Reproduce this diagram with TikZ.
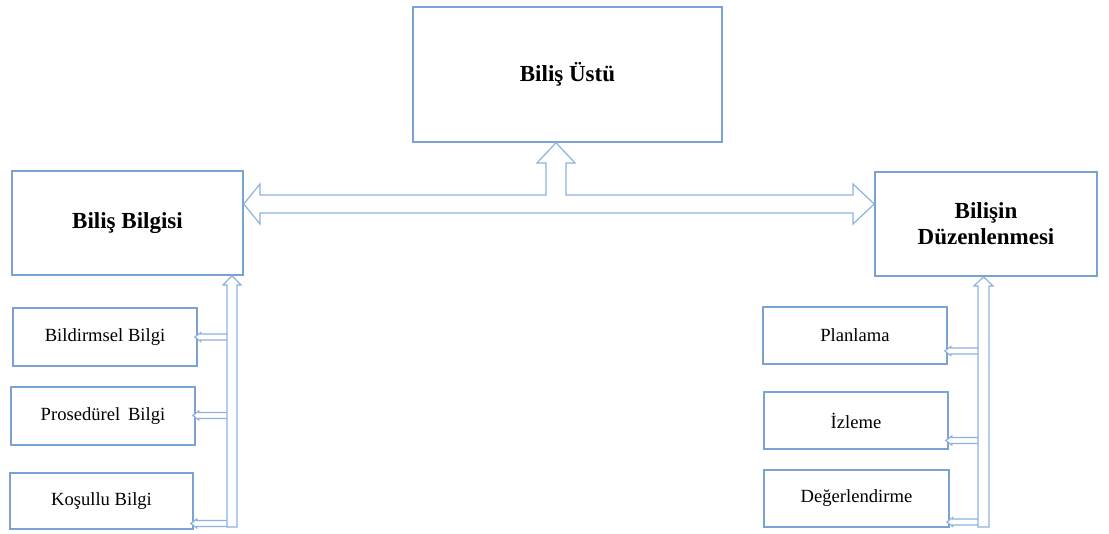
\documentclass[tikz,border=0pt]{standalone}
\usepackage{fontspec}
\setmainfont{Liberation Serif}
\usetikzlibrary{calc}
\definecolor{boxblue}{RGB}{122,162,210}
\definecolor{arrblue}{RGB}{140,178,222}
\tikzset{
  mainbox/.style={draw=boxblue,line width=0.75pt,fill=white,inner sep=0pt,align=center,font=\fontsize{11.5}{13}\selectfont\bfseries},
  subbox/.style={draw=boxblue,line width=0.75pt,fill=white,inner sep=0pt,align=center,font=\fontsize{9.3}{11}\selectfont},
  blockarrow/.style={draw=arrblue,line width=0.6pt,fill=white,line join=miter}
}
\begin{document}
\begin{tikzpicture}[x=0.5pt,y=-0.5pt]
\useasboundingbox (0,0) rectangle (1109,534);
% main boxes
\node[mainbox,minimum width=154.5pt,minimum height=67.5pt] (top) at (567.5,74.5) {Biliş Üstü};
\node[mainbox,minimum width=115.5pt,minimum height=52pt] (bb) at (127.5,223) {Biliş Bilgisi};
\node[mainbox,minimum width=111pt,minimum height=52pt] (bd) at (986,224) {Bilişin\\Düzenlenmesi};
% sub boxes left
\node[subbox,minimum width=92pt,minimum height=29pt] (b1) at (105,337) {Bildirmsel Bilgi};
\node[subbox,minimum width=92pt,minimum height=29pt] (b2) at (103,416) {Prosedürel\, Bilgi};
\node[subbox,minimum width=91.5pt,minimum height=28pt] (b3) at (101.5,501) {Koşullu Bilgi};
% sub boxes right
\node[subbox,minimum width=92pt,minimum height=28.5pt] (r1) at (855,335.5) {Planlama};
\node[subbox,minimum width=92pt,minimum height=28.5pt] (r2) at (856,420.5) {İzleme};
\node[subbox,minimum width=92.5pt,minimum height=28.5pt] (r3) at (856.5,498.5) {Değerlendirme};
% big T-shaped double arrow between bb, top, bd
\coordinate (ltip) at (bb.east |- 0,204);
\coordinate (utip) at (556,0 |- top.south);
\coordinate (rtip) at (bd.west |- 0,204);
\draw[blockarrow] (ltip) -- (260,184) -- (260,195) -- (546,195) -- (546,163) -- (537,163) -- (utip)
  -- (575,163) -- (566,163) -- (566,195) -- (853,195) -- (853,184) -- (rtip)
  -- (853,224) -- (853,213) -- (260,213) -- (260,224) -- cycle;
% left branches
\coordinate (lsh) at (228,0);
\coordinate (l1) at (b1.east |- 0,337);
\coordinate (l2) at (b2.east |- 0,415.5);
\coordinate (l3) at (b3.east |- 0,523.5);
\foreach \t in {l1,l2,l3}{
  \draw[blockarrow] ($(\t)+(-3,0)$) -- ($(\t)+(3,-4.5)$) -- ($(\t)+(3,-3)$) -- ($(\t -| lsh)+(0,-3)$)
     -- ($(\t -| lsh)+(0,3)$) -- ($(\t)+(3,3)$) -- ($(\t)+(3,4.5)$) -- cycle;
}
% left vertical arrow into bb
\coordinate (lvtip) at (232,0 |- bb.south);
\draw[blockarrow] (227,527) -- (227,285) -- (223,285) -- (lvtip) -- (241,285) -- (237,285) -- (237,527) -- cycle;
% right branches
\coordinate (rsh) at (979,0);
\coordinate (q1) at (r1.east |- 0,351);
\coordinate (q2) at (r2.east |- 0,440.5);
\coordinate (q3) at (r3.east |- 0,522);
\foreach \t in {q1,q2,q3}{
  \draw[blockarrow] ($(\t)+(-3,0)$) -- ($(\t)+(3,-4.5)$) -- ($(\t)+(3,-3)$) -- ($(\t -| rsh)+(0,-3)$)
     -- ($(\t -| rsh)+(0,3)$) -- ($(\t)+(3,3)$) -- ($(\t)+(3,4.5)$) -- cycle;
}
% right vertical arrow into bd
\coordinate (rvtip) at (983.5,0 |- bd.south);
\draw[blockarrow] (978,527) -- (978,286) -- (974,286) -- (rvtip) -- (993,286) -- (989,286) -- (989,527) -- cycle;
\end{tikzpicture}
\end{document}
